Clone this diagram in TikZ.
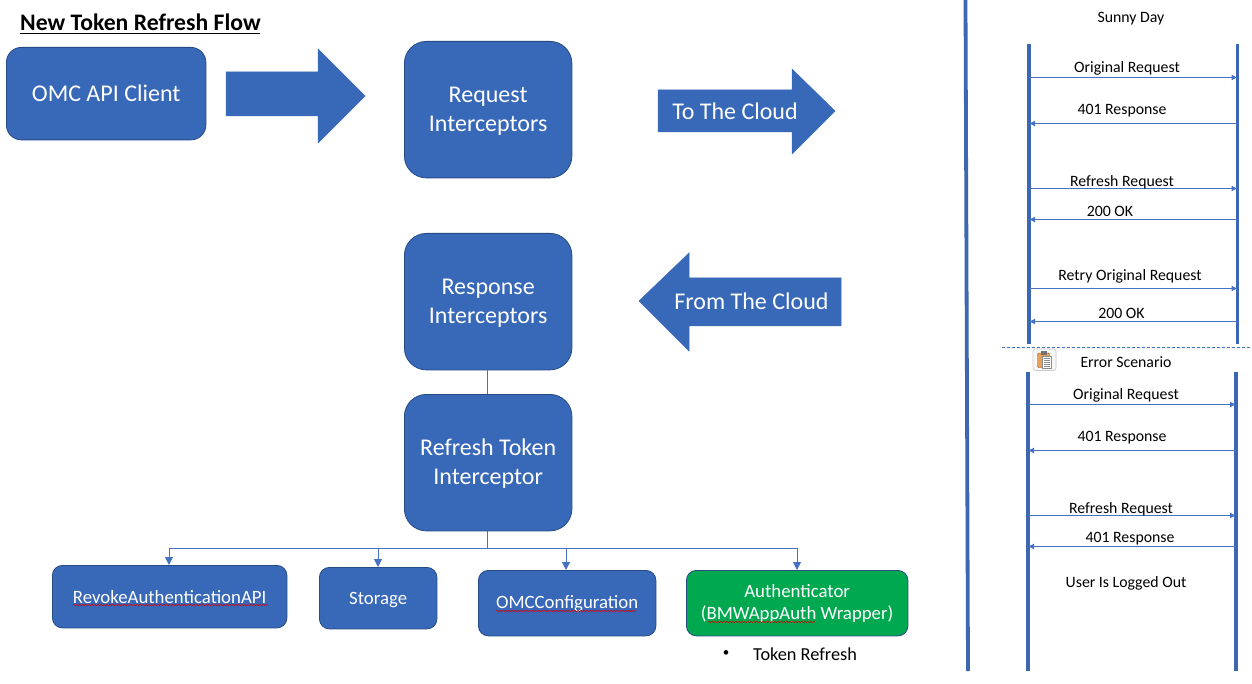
\documentclass[tikz,border=0pt]{standalone}
\usepackage{fontspec}
\setmainfont{Carlito}
\usetikzlibrary{arrows.meta,decorations.pathmorphing}
\definecolor{bluefill}{HTML}{3868B8}
\definecolor{blueedge}{HTML}{264A85}
\definecolor{linkblue}{HTML}{4472C4}
\definecolor{greenfill}{HTML}{00A84F}
\newcommand{\fs}[1]{\fontsize{#1}{#1}\selectfont}
\newcommand{\pushdown}{\rule{0pt}{18.5pt}}
\tikzset{
  x=1pt,y=-1pt,
  boxbase/.style={draw=blueedge,line width=0.8pt,fill=bluefill,text=white,align=center,inner sep=0pt,anchor=north west},
  bigbox/.style={boxbase,rounded corners=22pt,minimum width=167.5pt,minimum height=136.5pt,font=\fs{24}},
  smallbox/.style={boxbase,rounded corners=10pt,font=\fs{18.8}},
  blockarrow/.style={fill=bluefill,draw=bluefill,line width=0.5pt},
  arrowtext/.style={text=white,font=\fs{24},inner sep=0pt},
  msg/.style={font=\fs{15.8},inner sep=0pt,text=black,yshift=-2.3pt},
  lifeline/.style={draw=linkblue!90!black,line width=3.8pt},
  link/.style={draw=linkblue,line width=1pt,-{Triangle[length=8pt,width=8pt]}},
  plainlink/.style={draw=linkblue,line width=1pt},
  seqlink/.style={draw=linkblue,line width=1pt,-{Latex[length=6pt,width=6pt]}},
  squig/.style={draw=red!85!black,line width=0.5pt,decorate,decoration={snake,amplitude=0.7pt,segment length=3pt}}
}
\begin{document}
\begin{tikzpicture}
\useasboundingbox (0,0) rectangle (1252,684);
\fill[white] (0,0) rectangle (1252,684);

% title
\node[anchor=west,inner sep=0pt,font=\fs{23.7}\bfseries] (title) at (20,22) {New Token Refresh Flow};
\draw[line width=1.4pt] (20,33.5) -- (260,33.5);

% main boxes
\node[boxbase,rounded corners=15pt,minimum width=199.5pt,minimum height=92.5pt,font=\fs{24}] (client) at (6,47) {OMC API Client};
\node[bigbox] (req) at (404,41) {\pushdown Request\\[5pt]Interceptors};
\node[bigbox] (resp) at (404,233) {\pushdown Response\\[5pt]Interceptors};
\node[bigbox] (refresh) at (404,394) {\pushdown Refresh Token\\[5pt]Interceptor};

% block arrows
\draw[blockarrow] (226,72) -- (318,72) -- (318,49) -- (365,96) -- (318,143) -- (318,116) -- (226,116) -- cycle;
\draw[blockarrow] (658,90) -- (792,90) -- (792,69) -- (835,111) -- (792,154) -- (792,132) -- (658,132) -- cycle;
\node[arrowtext] (tocloud) at (735,111) {To The Cloud};
\draw[blockarrow] (841,278) -- (689,278) -- (689,253) -- (639,301) -- (689,351) -- (689,326) -- (841,326) -- cycle;
\node[arrowtext] (fromcloud) at (751.5,301) {From The Cloud};

% lower boxes
\node[smallbox,minimum width=234.5pt,minimum height=62.5pt] (revoke) at (52,565) {RevokeAuthenticationAPI};
\node[smallbox,minimum width=117.5pt,minimum height=61.5pt] (storage) at (319,567) {\rule{0pt}{15.5pt}Storage};
\node[smallbox,minimum width=177.5pt,minimum height=65.5pt] (conf) at (478,570) {OMCConfiguration};
\node[smallbox,fill=greenfill,minimum width=221.5pt,minimum height=65.5pt] (auth) at (686,570) {Authenticator\\[3pt](BMWAppAuth Wrapper)};
\node[anchor=west,inner sep=0pt,font=\fs{18.3}] (token) at (753,654) {Token Refresh};
\node[inner sep=0pt,font=\fs{13}] (bullet) at (726,654) {•};

% spell-check squiggles
\draw[squig] (73,605) -- (268,605);
\draw[squig] (496,611) -- (636,611);
\draw[squig] (708,622) -- (815,622);

% connectors
\draw[plainlink] (resp.south -| 487.5,0) -- (refresh.north -| 487.5,0);
\coordinate (bus) at (487.5,548);
\draw[plainlink] (refresh.south -| 487.5,0) -- (bus);
\draw[link] (bus) -| (revoke.north -| 169,0);
\draw[link] (bus) -| (storage.north -| 378,0);
\draw[link] (bus) -| (conf.north -| 566,0);
\draw[link] (bus) -| (auth.north -| 797,0);

% divider
\coordinate (divtop) at (965.5,0);
\coordinate (divbot) at (968,671);
\draw[lifeline] (divtop) -- (divbot);

% sunny day
\node[msg] (sunny) at (1131,16) {Sunny Day};
\coordinate (la) at (1029,44); \coordinate (lab) at (1029,344);
\coordinate (ra) at (1237.5,44); \coordinate (rab) at (1237.5,344);
\draw[lifeline] (la) -- (lab);
\draw[lifeline] (ra) -- (rab);
\draw[seqlink] (la |- 0,77.5) -- (ra |- 0,77.5);
\draw[seqlink] (ra |- 0,123.5) -- (la |- 0,123.5);
\draw[seqlink] (la |- 0,188.5) -- (ra |- 0,188.5);
\draw[seqlink] (ra |- 0,219.5) -- (la |- 0,219.5);
\draw[seqlink] (la |- 0,288.5) -- (ra |- 0,288.5);
\draw[seqlink] (ra |- 0,321.5) -- (la |- 0,321.5);
\node[msg] (m1) at (1127,66) {Original Request};
\node[msg] (m2) at (1122,108) {401 Response};
\node[msg] (m3) at (1122,180) {Refresh Request};
\node[msg] (m4) at (1110,209) {200 OK};
\node[msg] (m5) at (1130,274) {Retry Original Request};
\node[msg] (m6) at (1121.5,311) {200 OK};

% separator
\draw[draw=linkblue,line width=1pt,dash pattern=on 3pt off 2pt] (1002,347) -- (1252,347);

% clipboard icon
\draw[draw=black!20,fill=black!3,line width=0.7pt,rounded corners=2.5pt] (1033,349) rectangle (1056,370.5);
\draw[draw=brown!70!black,fill=orange!55!brown!75,line width=0.4pt,rounded corners=1pt] (1037.5,353) rectangle (1049.5,367.5);
\fill[black!55] (1040.5,351) rectangle (1046.5,354.5);
\draw[draw=black!45,fill=white,line width=0.4pt] (1042.5,356) rectangle (1051.5,368);
\foreach \yy in {358.5,360.5,362.5,364.5,366.5} \draw[black!45,line width=0.4pt] (1044,\yy) -- (1050,\yy);

% error scenario
\node[msg] (err) at (1126,360) {Error Scenario};
\coordinate (lb) at (1028,372); \coordinate (lbb) at (1028,671);
\coordinate (rb) at (1236,372); \coordinate (rbb) at (1236,671);
\draw[lifeline] (lb) -- (lbb);
\draw[lifeline] (rb) -- (rbb);
\draw[seqlink] (lb |- 0,404.5) -- (rb |- 0,404.5);
\draw[seqlink] (rb |- 0,450.5) -- (lb |- 0,450.5);
\draw[seqlink] (lb |- 0,515.5) -- (rb |- 0,515.5);
\draw[seqlink] (rb |- 0,546.5) -- (lb |- 0,546.5);
\node[msg] (e1) at (1126,393) {Original Request};
\node[msg] (e2) at (1122,435) {401 Response};
\node[msg] (e3) at (1121,507) {Refresh Request};
\node[msg] (e4) at (1130,536) {401 Response};
\node[msg] (e5) at (1126,581) {User Is Logged Out};
\end{tikzpicture}
\end{document}
